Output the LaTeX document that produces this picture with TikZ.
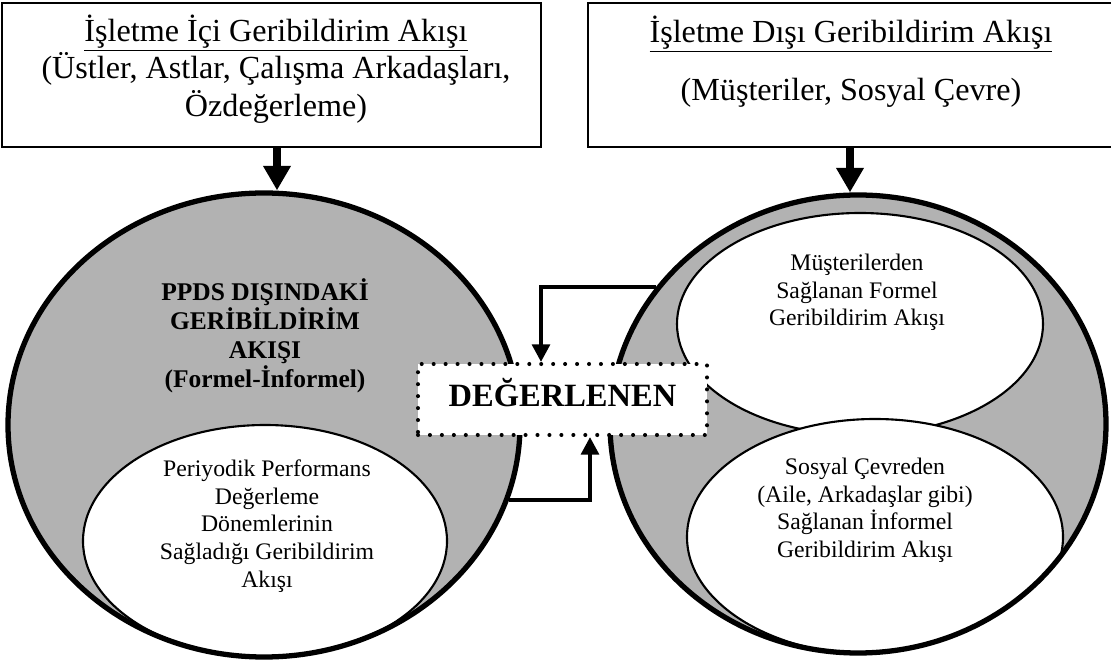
\documentclass[tikz,border=0pt]{standalone}
\usepackage{fontspec}
\setmainfont{Liberation Serif}
\usetikzlibrary{shapes.geometric, positioning, arrows.meta}
\definecolor{RingGray}{RGB}{178,178,178}

\begin{document}
\begin{tikzpicture}[
    flowbox/.style={rectangle, draw, line width=1.1pt, fill=white,
                    minimum height=2.88cm},
    flowtxt/.style={font=\fontsize{18.3}{21.2}\selectfont, align=center},
    ring/.style={ellipse, draw, line width=3pt},
    blob/.style={ellipse, draw, line width=1.2pt, fill=white},
    blobtxt/.style={font=\fontsize{13.5}{15.7}\selectfont, align=center},
    bigarrow/.style={line width=4pt, -{Triangle[width=15pt,length=14pt]}},
    link/.style={line width=2.3pt, -{Triangle[width=10pt,length=10pt]}},
    evalbox/.style={draw, fill=white, line width=2.3pt,
                    dash pattern=on 0pt off 6.8pt, line cap=round,
                    minimum width=5.78cm, minimum height=1.42cm,
                    font=\fontsize{18.5}{22}\bfseries\selectfont,
                    text height=13.5pt, text depth=5pt}
  ]
  \useasboundingbox (0,0) rectangle (22.22,-13.26);

  % Left ring
  \begin{scope}
    \clip (5.28,-8.5) ellipse [x radius=5.12, y radius=4.64];
    \fill[RingGray] (0,-3) rectangle (11,-13.3);
    \node[blob, minimum width=7.28cm, minimum height=4.64cm] (lper) at (5.3,-10.82) {};
  \end{scope}
  \node[ring, minimum width=10.24cm, minimum height=9.28cm] (lcirc) at (5.28,-8.5) {};

  % Right ring
  \begin{scope}
    \clip (17.16,-8.48) ellipse [x radius=4.96, y radius=4.58];
    \fill[RingGray] (11,-3) rectangle (22.3,-13.3);
    \node[blob, minimum width=7.32cm, minimum height=4.44cm] (rmus) at (17.2,-6.48) {};
    \node[blob, minimum width=7.52cm, minimum height=4.72cm] (rsos) at (17.5,-10.74) {};
  \end{scope}
  \node[ring, minimum width=9.92cm, minimum height=9.16cm] (rcirc) at (17.16,-8.48) {};

  % Ring texts
  \node[blobtxt, font=\fontsize{14.5}{16.5}\bfseries\selectfont] (ltitle) at (5.3,-6.72)
        {PPDS DIŞINDAKİ\\GERİBİLDİRİM\\AKIŞI\\(Formel-İnformel)};
  \node[blobtxt] (lpertxt) at (5.34,-10.52)
        {Periyodik Performans\\Değerleme\\Dönemlerinin\\Sağladığı Geribildirim\\Akışı};
  \node[blobtxt] (rmustxt) at (17.14,-5.85)
        {Müşterilerden\\Sağlanan Formel\\Geribildirim Akışı};
  \node[blobtxt] (rsostxt) at (17.3,-10.21)
        {Sosyal Çevreden\\(Aile, Arkadaşlar gibi)\\Sağlanan İnformel\\Geribildirim Akışı};

  % Evaluated person
  \node[evalbox] (deg) at (11.25,-7.99) {DEĞERLENEN};
  \draw[link] (rcirc.146.6) -| ([xshift=-0.43cm]deg.north);
  \draw[link] (lcirc.-17.9) -| ([xshift=0.55cm]deg.south);

  % Header boxes
  \node[flowbox, minimum width=10.78cm] (lbox) at (5.43,-1.5) {};
  \node[flowtxt] (lhead) at (5.52,-1.38)
        {\underline{İşletme İçi Geribildirim Akışı}\\(Üstler, Astlar, Çalışma Arkadaşları,\\Özdeğerleme)};
  \node[flowbox, minimum width=10.52cm] (rbox) at (17.02,-1.5) {};
  \node[flowtxt] (rhead) at (17.02,-1.23)
        {\underline{İşletme Dışı Geribildirim Akışı}\\[12pt](Müşteriler, Sosyal Çevre)};

  \coordinate (ltop) at ([xshift=0.26cm]lcirc.north);
  \coordinate (rtop) at ([xshift=-0.16cm]rcirc.north);
  \draw[bigarrow] (lbox.south -| ltop) -- (ltop);
  \draw[bigarrow] (rbox.south -| rtop) -- (rtop);
\end{tikzpicture}
\end{document}
